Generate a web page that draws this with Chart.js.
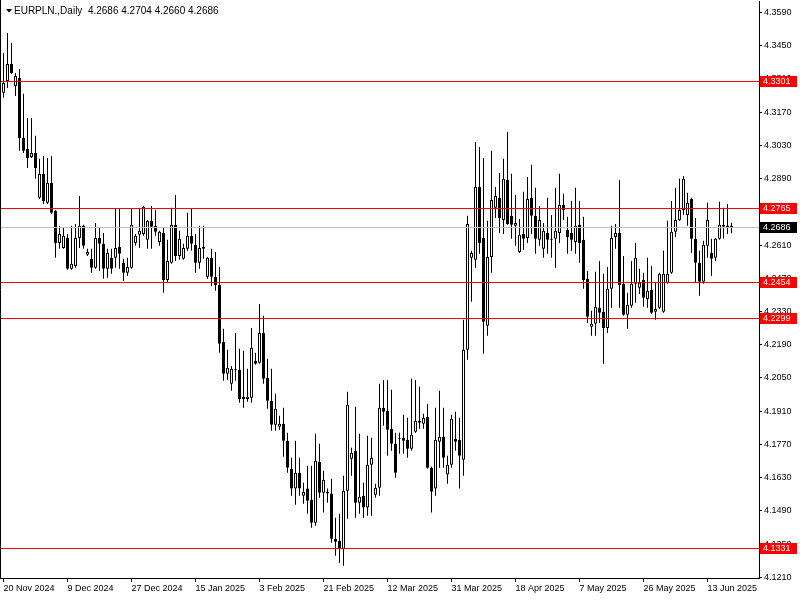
<!DOCTYPE html>
<html>
<head>
<meta charset="utf-8">
<title>EURPLN Daily</title>
<script src="https://cdn.jsdelivr.net/npm/chart.js@4.4.1/dist/chart.umd.min.js"></script>
<style>
    html, body { margin: 0; padding: 0; background: #ffffff; }
    #candles { display: block; }
</style>
</head>
<body>
<canvas id="candles" width="800" height="600"></canvas>
<script>
"use strict";

/* chart data */
var symbolTitle = 'EURPLN.,Daily';

var opens = [
    4.3251, 4.3301, 4.3373, 4.3280, 4.3314, 4.3061, 4.3015, 4.2981, 4.2998, 4.2809,
    4.2910, 4.2788, 4.2872, 4.2754, 4.2619, 4.2598, 4.2640, 4.2510, 4.2522, 4.2640,
    4.2691, 4.2569, 4.2552, 4.2514, 4.2640, 4.2615, 4.2510, 4.2556, 4.2556, 4.2602,
    4.2535, 4.2493, 4.2514, 4.2619, 4.2653, 4.2657, 4.2632, 4.2712, 4.2691, 4.2623,
    4.2661, 4.2463, 4.2535, 4.2695, 4.2564, 4.2552, 4.2594, 4.2649, 4.2611, 4.2535,
    4.2602, 4.2476, 4.2556, 4.2476, 4.2442, 4.2202, 4.2068, 4.2026, 4.2089, 4.2085,
    4.1971, 4.1962, 4.1967, 4.2122, 4.2114, 4.2240, 4.2051, 4.1954, 4.1853, 4.1845,
    4.1857, 4.1786, 4.1668, 4.1584, 4.1651, 4.1554, 4.1584, 4.1537, 4.1440, 4.1697,
    4.1567, 4.1571, 4.1563, 4.1373, 4.1364, 4.1331, 4.1575, 4.1710, 4.1744, 4.1525,
    4.1554, 4.1504, 4.1685, 4.1558, 4.1588, 4.1925, 4.1912, 4.1836, 4.1773, 4.1798,
    4.1798, 4.1790, 4.1752, 4.1824, 4.1870, 4.1857, 4.1887, 4.1672, 4.1584, 4.1781,
    4.1802, 4.1643, 4.1685, 4.1794, 4.1790, 4.1706, 4.2169, 4.2556, 4.2548, 4.2855,
    4.2640, 4.2270, 4.2560, 4.2767, 4.2809, 4.2716, 4.2884, 4.2733, 4.2691, 4.2581,
    4.2657, 4.2640, 4.2809, 4.2733, 4.2632, 4.2594, 4.2661, 4.2636, 4.2636, 4.2661,
    4.2779, 4.2674, 4.2661, 4.2623, 4.2695, 4.2632, 4.2468, 4.2266, 4.2278, 4.2345,
    4.2329, 4.2261, 4.2426, 4.2644, 4.2661, 4.2447, 4.2316, 4.2354, 4.2447, 4.2430,
    4.2463, 4.2383, 4.2421, 4.2329, 4.2346, 4.2329, 4.2451, 4.2493, 4.2666, 4.2716,
    4.2758, 4.2737, 4.2804, 4.2636, 4.2535, 4.2455, 4.2607, 4.2577, 4.2556, 4.2636,
    4.2695, 4.2691, 4.2686
];

var highs = [
    4.3419, 4.3503, 4.3461, 4.3335, 4.3352, 4.3247, 4.3145, 4.3145, 4.3070, 4.2973,
    4.2985, 4.2977, 4.2985, 4.2758, 4.2691, 4.2682, 4.2657, 4.2691, 4.2699, 4.2817,
    4.2695, 4.2594, 4.2594, 4.2703, 4.2682, 4.2661, 4.2594, 4.2594, 4.2762, 4.2762,
    4.2552, 4.2556, 4.2762, 4.2657, 4.2762, 4.2775, 4.2716, 4.2775, 4.2758, 4.2670,
    4.2682, 4.2632, 4.2767, 4.2821, 4.2670, 4.2615, 4.2746, 4.2762, 4.2657, 4.2691,
    4.2691, 4.2560, 4.2594, 4.2581, 4.2518, 4.2257, 4.2169, 4.2101, 4.2240, 4.2173,
    4.2165, 4.2089, 4.2261, 4.2156, 4.2362, 4.2312, 4.2131, 4.2089, 4.1984, 4.1891,
    4.1925, 4.1819, 4.1714, 4.1786, 4.1714, 4.1609, 4.1680, 4.1680, 4.1815, 4.1773,
    4.1659, 4.1584, 4.1626, 4.1461, 4.1478, 4.1638, 4.1992, 4.1756, 4.1929, 4.1815,
    4.1609, 4.1807, 4.1798, 4.1605, 4.2026, 4.2042, 4.2042, 4.2000, 4.1819, 4.1819,
    4.1895, 4.1882, 4.2047, 4.2042, 4.2013, 4.1899, 4.1941, 4.1676, 4.1925, 4.1996,
    4.1925, 4.1722, 4.1895, 4.1908, 4.1882, 4.2295, 4.2733, 4.2586, 4.3044, 4.3023,
    4.2977, 4.2712, 4.3007, 4.2855, 4.2914, 4.2973, 4.3087, 4.2910, 4.2821, 4.2720,
    4.2834, 4.2897, 4.2948, 4.2851, 4.2775, 4.2703, 4.2809, 4.2737, 4.2851, 4.2910,
    4.2826, 4.2729, 4.2796, 4.2851, 4.2796, 4.2729, 4.2501, 4.2333, 4.2497, 4.2543,
    4.2489, 4.2518, 4.2691, 4.2699, 4.2884, 4.2564, 4.2409, 4.2543, 4.2619, 4.2510,
    4.2493, 4.2556, 4.2522, 4.2451, 4.2493, 4.2586, 4.2712, 4.2796, 4.2851, 4.2889,
    4.2901, 4.2830, 4.2809, 4.2724, 4.2586, 4.2628, 4.2788, 4.2636, 4.2640, 4.2792,
    4.2767, 4.2783, 4.2704
];

var lows = [
    4.3230, 4.3272, 4.3331, 4.3238, 4.3007, 4.2998, 4.2935, 4.2977, 4.2889, 4.2804,
    4.2783, 4.2783, 4.2741, 4.2556, 4.2594, 4.2594, 4.2506, 4.2506, 4.2514, 4.2598,
    4.2594, 4.2564, 4.2493, 4.2510, 4.2501, 4.2468, 4.2472, 4.2489, 4.2514, 4.2510,
    4.2459, 4.2480, 4.2510, 4.2607, 4.2598, 4.2649, 4.2594, 4.2594, 4.2649, 4.2607,
    4.2409, 4.2451, 4.2531, 4.2543, 4.2548, 4.2548, 4.2586, 4.2586, 4.2493, 4.2510,
    4.2552, 4.2468, 4.2438, 4.2417, 4.2156, 4.2038, 4.2042, 4.1996, 4.2038, 4.1946,
    4.1925, 4.1950, 4.1946, 4.2106, 4.2110, 4.2026, 4.1920, 4.1828, 4.1828, 4.1832,
    4.1718, 4.1651, 4.1554, 4.1516, 4.1554, 4.1520, 4.1478, 4.1419, 4.1428, 4.1546,
    4.1483, 4.1525, 4.1356, 4.1301, 4.1272, 4.1259, 4.1457, 4.1638, 4.1461, 4.1478,
    4.1461, 4.1470, 4.1470, 4.1546, 4.1554, 4.1849, 4.1722, 4.1744, 4.1630, 4.1731,
    4.1731, 4.1714, 4.1744, 4.1819, 4.1836, 4.1836, 4.1668, 4.1483, 4.1554, 4.1672,
    4.1672, 4.1605, 4.1672, 4.1744, 4.1584, 4.1638, 4.2127, 4.2371, 4.2514, 4.2573,
    4.2152, 4.2228, 4.2493, 4.2724, 4.2661, 4.2657, 4.2695, 4.2636, 4.2607, 4.2577,
    4.2590, 4.2619, 4.2657, 4.2573, 4.2607, 4.2556, 4.2573, 4.2556, 4.2514, 4.2619,
    4.2716, 4.2573, 4.2586, 4.2573, 4.2535, 4.2426, 4.2282, 4.2228, 4.2228, 4.2282,
    4.2110, 4.2240, 4.2346, 4.2594, 4.2346, 4.2312, 4.2257, 4.2346, 4.2367, 4.2404,
    4.2350, 4.2346, 4.2320, 4.2295, 4.2341, 4.2325, 4.2447, 4.2489, 4.2644, 4.2712,
    4.2737, 4.2691, 4.2577, 4.2451, 4.2396, 4.2447, 4.2556, 4.2480, 4.2543, 4.2632,
    4.2636, 4.2657, 4.2660
];

var closes = [
    4.3293, 4.3373, 4.3335, 4.3322, 4.3061, 4.3007, 4.2977, 4.2998, 4.2935, 4.2910,
    4.2796, 4.2872, 4.2746, 4.2619, 4.2657, 4.2649, 4.2510, 4.2531, 4.2640, 4.2691,
    4.2607, 4.2581, 4.2514, 4.2640, 4.2615, 4.2510, 4.2577, 4.2510, 4.2598, 4.2573,
    4.2493, 4.2518, 4.2695, 4.2649, 4.2670, 4.2771, 4.2712, 4.2687, 4.2666, 4.2666,
    4.2463, 4.2543, 4.2695, 4.2564, 4.2636, 4.2598, 4.2649, 4.2615, 4.2535, 4.2598,
    4.2594, 4.2556, 4.2476, 4.2442, 4.2194, 4.2068, 4.2093, 4.2089, 4.2085, 4.1962,
    4.1962, 4.1971, 4.2177, 4.2110, 4.2240, 4.2047, 4.1954, 4.1853, 4.1920, 4.1857,
    4.1786, 4.1672, 4.1584, 4.1651, 4.1584, 4.1571, 4.1533, 4.1440, 4.1701, 4.1567,
    4.1621, 4.1563, 4.1373, 4.1360, 4.1331, 4.1575, 4.1937, 4.1735, 4.1525, 4.1550,
    4.1504, 4.1685, 4.1714, 4.1588, 4.1925, 4.1908, 4.1832, 4.1773, 4.1651, 4.1794,
    4.1786, 4.1752, 4.1811, 4.1870, 4.1861, 4.1882, 4.1672, 4.1571, 4.1790, 4.1802,
    4.1714, 4.1685, 4.1878, 4.1781, 4.1722, 4.2169, 4.2699, 4.2577, 4.2855, 4.2619,
    4.2287, 4.2560, 4.2800, 4.2817, 4.2724, 4.2889, 4.2699, 4.2695, 4.2703, 4.2653,
    4.2636, 4.2804, 4.2733, 4.2636, 4.2716, 4.2670, 4.2632, 4.2632, 4.2670, 4.2779,
    4.2758, 4.2644, 4.2632, 4.2691, 4.2619, 4.2463, 4.2308, 4.2278, 4.2350, 4.2325,
    4.2261, 4.2426, 4.2640, 4.2661, 4.2442, 4.2316, 4.2358, 4.2447, 4.2556, 4.2451,
    4.2388, 4.2417, 4.2325, 4.2341, 4.2489, 4.2489, 4.2489, 4.2666, 4.2716, 4.2758,
    4.2889, 4.2788, 4.2636, 4.2535, 4.2455, 4.2611, 4.2716, 4.2552, 4.2636, 4.2695,
    4.2687, 4.2682, 4.2686
];

// bar index where each date label sits, and its text
var dateTickBars = [0, 16, 32, 48, 64, 80, 96, 112, 128, 144, 160, 176];
var dateTickLabels = ['20 Nov 2024', '9 Dec 2024', '27 Dec 2024', '15 Jan 2025', '3 Feb 2025', '21 Feb 2025',
    '12 Mar 2025', '31 Mar 2025', '18 Apr 2025', '7 May 2025', '26 May 2025', '13 Jun 2025'];

var priceTicks = [4.1210, 4.1350, 4.1490, 4.1630, 4.1770, 4.1910, 4.2050, 4.2190, 4.2330,
    4.2470, 4.2610, 4.2750, 4.2890, 4.3030, 4.3170, 4.3310, 4.3450, 4.3590];

var levelLines = [4.3301, 4.2765, 4.2454, 4.2299, 4.1331];
var lastPrice = closes[closes.length - 1];

document.addEventListener("DOMContentLoaded", function () {
    Chart.defaults.font.family = '"Liberation Sans", Arial, sans-serif';
    Chart.defaults.font.size = 9;
    Chart.defaults.color = '#000000';

    var bodies = opens.map(function (o, i) { return { x: i, y: [o, closes[i]] }; });
    var wicks = lows.map(function (l, i) { return { x: i, y: [l, highs[i]] }; });
    var bodyColors = opens.map(function (o, i) { return closes[i] > o ? '#ffffff' : '#000000'; });

    // no extra room for the end labels, the plot has to fill the window
    function noScalePadding(scale) {
        scale.paddingTop = 0;
        scale.paddingBottom = 0;
        scale.paddingLeft = 0;
        scale.paddingRight = 0;
    }

    /* level lines (red) and bid line (grey), drawn over the candles */
    var levelsPlugin = {
        id: 'levels',
        afterDatasetsDraw: function (chart) {
            var ctx = chart.ctx, area = chart.chartArea, ys = chart.scales.y;
            ctx.save();
            ctx.lineWidth = 1;
            ctx.strokeStyle = '#c0c0c0';
            var yb = Math.floor(ys.getPixelForValue(lastPrice)) + 0.5;
            ctx.beginPath();
            ctx.moveTo(area.left, yb);
            ctx.lineTo(area.right, yb);
            ctx.stroke();
            ctx.strokeStyle = '#ff0000';
            levelLines.forEach(function (v) {
                var y = Math.floor(ys.getPixelForValue(v)) + 0.5;
                ctx.beginPath();
                ctx.moveTo(area.left, y);
                ctx.lineTo(area.right, y);
                ctx.stroke();
            });
            ctx.restore();
        }
    };

    /* price boxes on the axis, window title, left frame */
    var overlayPlugin = {
        id: 'overlay',
        afterDraw: function (chart) {
            var ctx = chart.ctx, area = chart.chartArea, ys = chart.scales.y;
            ctx.save();
            ctx.font = '9px "Liberation Sans", Arial, sans-serif';
            ctx.textBaseline = 'middle';
            ctx.textAlign = 'left';

            function priceBox(v, bg) {
                var y = Math.floor(ys.getPixelForValue(v));
                ctx.fillStyle = bg;
                ctx.fillRect(area.right + 1, y - 5, 37, 11);
                ctx.fillStyle = '#ffffff';
                ctx.fillText(v.toFixed(4), area.right + 4, y + 0.5);
            }
            levelLines.forEach(function (v) { priceBox(v, '#ff0000'); });
            priceBox(lastPrice, '#000000');

            // left frame
            ctx.strokeStyle = '#000000';
            ctx.lineWidth = 1;
            ctx.beginPath();
            ctx.moveTo(0.5, 0);
            ctx.lineTo(0.5, area.bottom + 1);
            ctx.stroke();

            // title with the last bar OHLC
            var n = closes.length - 1;
            ctx.fillStyle = '#000000';
            ctx.beginPath();
            ctx.moveTo(6, 9);
            ctx.lineTo(12, 9);
            ctx.lineTo(9, 12.5);
            ctx.closePath();
            ctx.fill();
            ctx.font = '10px "Liberation Sans", Arial, sans-serif';
            ctx.fillText(symbolTitle + '  ' + [opens[n], highs[n], lows[n], closes[n]].map(function (v) {
                return v.toFixed(4);
            }).join(' '), 14, 11.5);
            ctx.restore();
        }
    };

    var candleConfig = {
        type: 'bar',
        data: {
            datasets: [{
                label: 'body',
                data: bodies,
                grouped: false,
                barThickness: 3,
                minBarLength: 1,
                backgroundColor: bodyColors,
                borderColor: '#000000',
                borderWidth: 1,
                borderSkipped: false,
                inflateAmount: 0,
            }, {
                label: 'wick',
                data: wicks,
                grouped: false,
                barThickness: 1,
                backgroundColor: '#000000',
                borderWidth: 0,
                inflateAmount: 0,
            }]
        },
        options: {
            responsive: false,
            devicePixelRatio: 1,
            animation: false,
            events: [],
            layout: {
                padding: { left: 1, top: 1, right: 0, bottom: 0 }
            },
            plugins: {
                legend: { display: false },
                tooltip: { enabled: false },
            },
            scales: {
                x: {
                    type: 'linear',
                    min: -0.625,
                    max: 188.875,
                    bounds: 'data',
                    offset: false,
                    afterBuildTicks: function (scale) {
                        scale.ticks = dateTickBars.map(function (v) { return { value: v }; });
                    },
                    afterFit: function (scale) {
                        scale.height = 22;
                        noScalePadding(scale);
                    },
                    grid: {
                        offset: false,
                        drawOnChartArea: false,
                        drawTicks: true,
                        tickLength: 4,
                        color: '#000000',
                    },
                    border: { display: true, color: '#000000' },
                    ticks: {
                        autoSkip: false,
                        maxRotation: 0,
                        align: 'start',
                        padding: 1,
                        color: '#000000',
                        callback: function (value) {
                            return dateTickLabels[dateTickBars.indexOf(value)];
                        }
                    }
                },
                y: {
                    position: 'right',
                    min: 4.12075,
                    max: 4.3638,
                    bounds: 'data',
                    beginAtZero: false,
                    afterBuildTicks: function (scale) {
                        scale.ticks = priceTicks.map(function (v) { return { value: v }; });
                    },
                    afterFit: function (scale) {
                        scale.width = 41;
                        noScalePadding(scale);
                    },
                    grid: {
                        drawOnChartArea: false,
                        drawTicks: true,
                        tickLength: 3,
                        color: '#000000',
                    },
                    border: { display: true, color: '#000000' },
                    ticks: {
                        padding: 2,
                        color: '#000000',
                        callback: function (value) { return value.toFixed(4); }
                    }
                }
            }
        },
        plugins: [levelsPlugin, overlayPlugin]
    };

    var candleChart = new Chart(document.getElementById('candles').getContext('2d'), candleConfig);
});
</script>
</body>
</html>
